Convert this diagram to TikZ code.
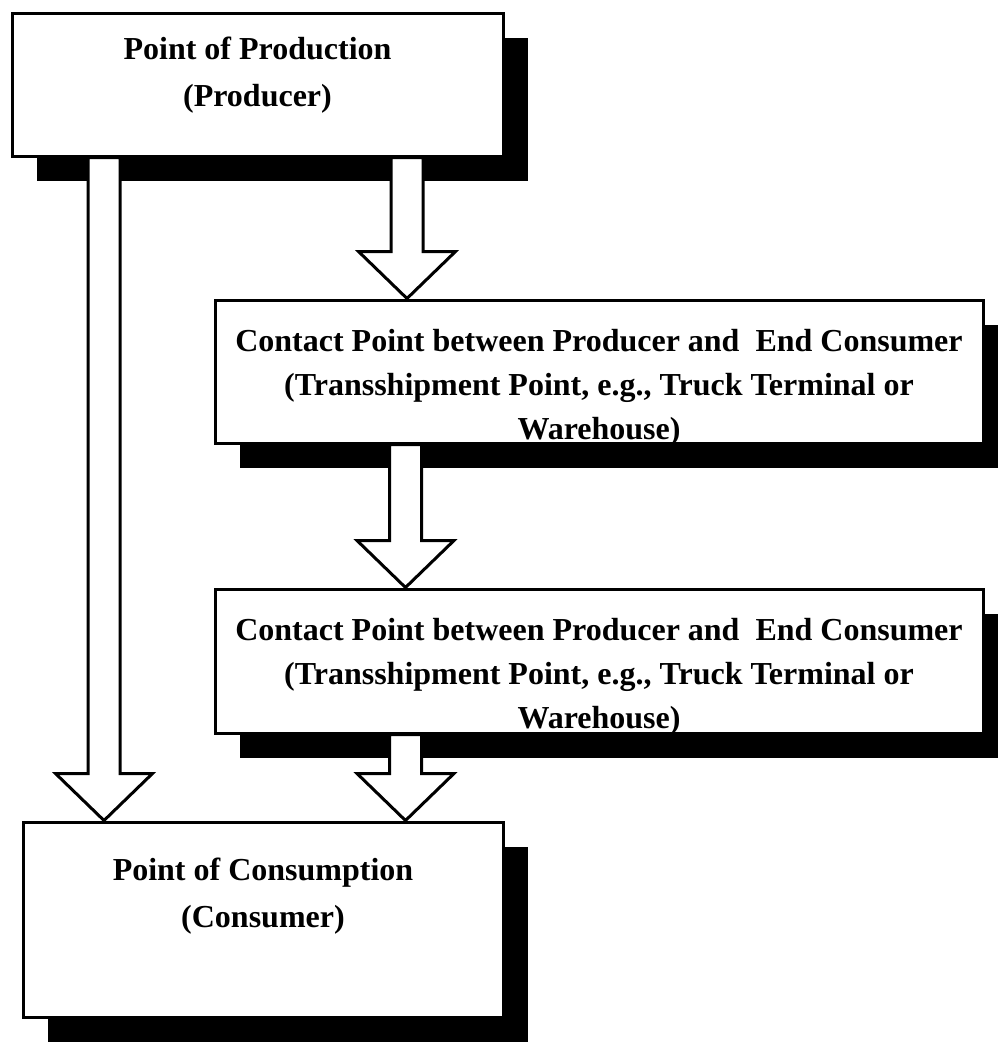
\documentclass[tikz,border=0pt]{standalone}
\usepackage{fontspec}
\setmainfont{Liberation Serif}
\usetikzlibrary{calc,shadows}
\newcommand\blockarrow[2]{%
  \path[barrow] let \p1=(#1), \p2=(#2) in
    (\x1-16pt,\y1) -- (\x1-16pt,\y2+47pt) -- (\x1-48.5pt,\y2+47pt) -- (\x1,\y2)
    -- (\x1+48.5pt,\y2+47pt) -- (\x1+16pt,\y2+47pt) -- (\x1+16pt,\y1) -- cycle;}
\begin{document}
\begin{tikzpicture}[x=1pt,y=-1pt,
  box/.style={draw=black, line width=3pt, fill=white, rectangle, inner sep=0pt,
    general shadow={fill=black, shadow xshift=25pt, shadow yshift=-25pt}},
  lbl/.style={font=\fontsize{32}{44}\selectfont\bfseries, align=center, inner sep=0pt, anchor=north},
  lblwide/.style={lbl, font=\fontsize{32}{47}\selectfont\bfseries},
  barrow/.style={draw=black, line width=3pt, fill=white, line join=miter}]
\useasboundingbox[fill=white] (0,0) rectangle (997,1042);
% boxes
\node[box, minimum width=491pt, minimum height=143pt] (prod) at (257.5,84.5) {};
\node[box, minimum width=768pt, minimum height=143pt] (tp1) at (599,371.5) {};
\node[box, minimum width=768pt, minimum height=144pt] (tp2) at (599,661) {};
\node[box, minimum width=480pt, minimum height=195pt] (cons) at (263,919.5) {};
% labels
\node[lblwide] (t1) at ([yshift=-25pt]prod.north) {Point of Production\\(Producer)};
\node[lbl] (t2) at ([yshift=-31pt]tp1.north) {Contact Point between Producer and\ \ End Consumer\\(Transshipment Point, e.g., Truck Terminal or\\Warehouse)};
\node[lbl] (t3) at ([yshift=-31pt]tp2.north) {Contact Point between Producer and\ \ End Consumer\\(Transshipment Point, e.g., Truck Terminal or\\Warehouse)};
\node[lblwide] (t4) at ([yshift=-37pt]cons.north) {Point of Consumption\\(Consumer)};
% block arrows
\blockarrow{[xshift=93.5pt]prod.south west}{[xshift=82.5pt]cons.north west}
\blockarrow{[xshift=149.5pt]prod.south}{[xshift=192pt]tp1.north west}
\blockarrow{[xshift=192pt]tp1.south west}{[xshift=192pt]tp2.north west}
\blockarrow{[xshift=192pt]tp2.south west}{[xshift=384pt]cons.north west}
\end{tikzpicture}
\end{document}
